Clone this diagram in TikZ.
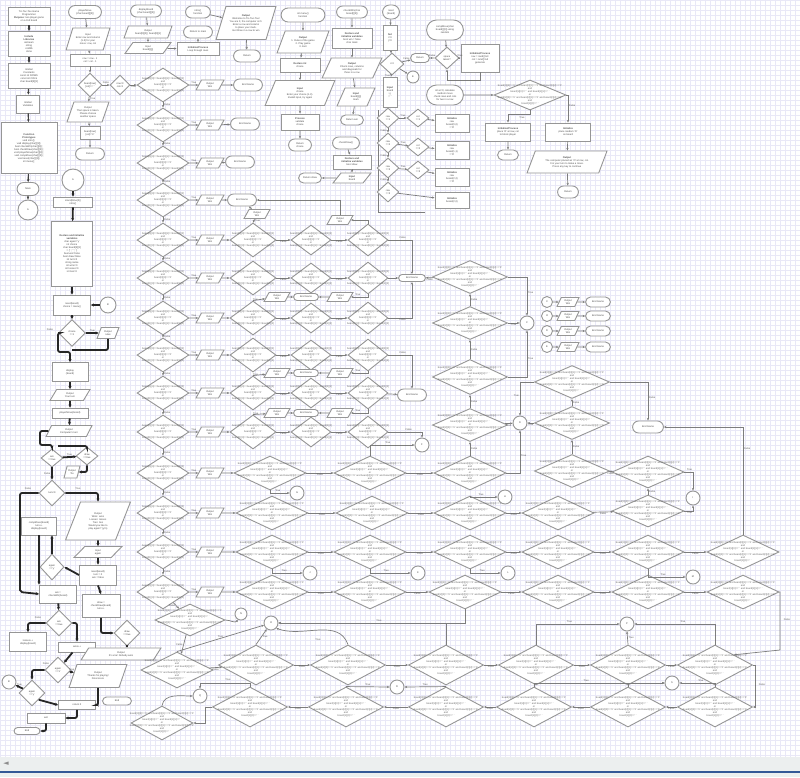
\documentclass[tikz,border=0pt]{standalone}
\usepackage{fontspec}
\setmainfont{Liberation Sans}
\newfontfamily\symf{DejaVu Sans}
\usetikzlibrary{shapes.geometric,shapes.misc,arrows.meta}
\definecolor{gridc}{RGB}{233,232,247}
\definecolor{edgec}{RGB}{150,150,150}
\definecolor{linec}{RGB}{125,125,125}
\definecolor{bandc}{RGB}{236,239,239}
\definecolor{bluec}{RGB}{52,88,150}
\newcommand\tf{\fontsize{2.5}{3}\selectfont}
\newcommand\dtext{board[0][0]==board[0][1]==board[0][2]\\and\\board[0][0]=={}'X'\\or\\board[1][0]==board[1][1]==board[1][2]}
\newcommand\dtextB{board[0][0]=={}'X' and board[0][1]=={}'X' and board[0][2]=={}'X'\\and\\board[1][0]=={}' ' and board[1][1]=={}' '\\or\\board[2][0]=={}'X' and board[2][1]=={}'X' and board[2][2]=={}'X'\\and\\board[1][2]=={}' '}
\newcommand\Rc[6]{\node[bx,rectangle,minimum width=#4pt,minimum height=#5pt] (#1) at (#2,#3) {#6};}
\newcommand\Tm[6]{\node[bx,rounded rectangle,minimum width=#4pt,minimum height=#5pt] (#1) at (#2,#3) {#6};}
\newcommand\Io[6]{\node[bx,trapezium,trapezium left angle=65,trapezium right angle=115,trapezium stretches=true,minimum width=#4pt,minimum height=#5pt] (#1) at (#2,#3) {#6};}
\newcommand\Dm[5]{\node[bx,diamond,minimum width=#4pt,minimum height=#5pt,label={[dtx]center:\dtext}] (#1) at (#2,#3) {};}
\newcommand\Db[5]{\node[bx,diamond,minimum width=#4pt,minimum height=#5pt,label={[dtx]center:\dtextB}] (#1) at (#2,#3) {};}
\newcommand\Ds[6]{\node[bx,diamond,minimum width=#4pt,minimum height=#5pt,inner sep=0pt] (#1) at (#2,#3) {#6};}
\newcommand\Cc[5]{\node[bx,circle,minimum size=#4pt,inner sep=0pt] (#1) at (#2,#3) {#5};}
\begin{document}
\begin{tikzpicture}[x=1pt,y=-1pt,
  bx/.style={draw=edgec,line width=0.9pt,fill=white,inner sep=0.6pt,font=\tf,align=center,text=black!70},
  dtx/.style={font=\tf,align=center,inner sep=0pt,text=black!60},
  ar/.style={draw=linec,line width=0.7pt,-{Stealth[length=2.6pt,width=2.2pt]}},
  ard/.style={draw=black!75,line width=1.1pt,-{Stealth[length=2.8pt,width=2.6pt]}},
  bk/.style={draw=black!85,line width=1.8pt,rounded corners=2pt,-{Stealth[length=3pt,width=3pt]}},
  lb/.style={font=\tf,text=black!65,inner sep=0.8pt}]
\useasboundingbox (0,0) rectangle (800,777);
\fill[white] (0,0) rectangle (800,757);
\draw[gridc,line width=0.3pt,step=5pt] (0,0) grid (800,757);
\fill[bandc] (0,757) rectangle (800,771);
\fill[bluec] (0,771) rectangle (800,772.6);
\fill[bandc] (0,772.6) rectangle (800,777);
\node[font=\symf\fontsize{7}{7}\selectfont,text=black!45] (arrl) at (6,764) {◄};

% ---------------- column A
\Rc{a1}{29}{16}{42}{18}{Tic-Tac-Toe Game\\ Programmer\\ \textbf{Purpose}: two player game\\ on a 3x3 board}
\Rc{a2}{29}{44}{42}{25}{\textbf{Include}\\ \textbf{Libraries}\\ iostream\\ string\\ cstdlib\\ ctime}
\Rc{a3}{29}{76}{42}{25}{Global\\ Constants\\ const int ROWS\\ const int COLS\\ char board[3][3]}
\Rc{a4}{28}{104}{23}{18}{Global\\ Variables}
\Rc{a5}{29}{148}{56}{51}{\textbf{Function}\\ \textbf{Prototypes}\\ void intro();\\ void display(char[][3]);\\ bool checkWin(char[][3]);\\ bool checkDraw(char[][3]);\\ void playerMove(char[][3]);\\ void compMove(char[][3]);\\ void reset(char[][3]);\\ int menu();}
\Tm{a6}{28}{189}{23}{13}{Main}
\Cc{a7}{28}{210}{20}{A}
\draw[ard] (a1)--(a2); \draw[ard] (a2)--(a3); \draw[ard] (a3)--(a4);
\draw[ard] (a4)--(a5); \draw[ard] (a5)--(a6); \draw[ard] (a6)--(a7);

% ---------------- column B
\Tm{b1}{85}{12}{34}{13}{playerMove\\ (char board[][3])}
\Io{b2}{88}{39}{44}{22}{Input\\ Enter row and column\\ (1-3) for your\\ move: row, col}
\Rc{b3}{90}{60}{40}{12}{row = row - 1\\ col = col - 1}
\Ds{b4}{90}{85}{24}{24}{board[row]\\{}[col]==' '}
\Ds{b5}{120}{85}{20}{20}{row<3\\ col<3}
\Io{b6}{88}{112}{42}{20}{Output\\ That space is taken.\\ Please choose\\ another space}
\Rc{b7}{90}{133}{20}{13}{board[row]\\{}[col]='X'}
\Tm{b8}{90}{154}{30}{12}{Return}
\Cc{b9}{73}{180}{22}{A}
\Rc{b10}{73}{202}{39}{10}{srand(time(0))\\ intro()}
\Rc{b11}{72}{254}{41}{65}{\textbf{Declare and initialize}\\ \textbf{variables}\\ char again='y'\\ int choice\\ char board[3][3]\\ = \{' ',' ',' '\}\\ bool win=false\\ bool draw=false\\ int turn=0\\ string name\\ int wins=0\\ int losses=0\\ int ties=0}
\Rc{b12}{72}{305}{37}{20}{reset(board)\\ choice = menu()}
\Cc{b12c}{108}{305}{16}{B}
\Ds{b13}{72}{333}{27}{27}{choice\\ ==1}
\Io{b14}{108}{333}{22}{11}{Output\\ rules}
\Rc{b15}{70}{372}{36}{19}{display\\ (board)}
\Io{b16}{70}{395}{40}{11}{Output\\ Your turn}
\Rc{b17}{70}{413}{36}{10}{playerMove(board)}
\Io{b18}{69}{431}{46}{11}{Output\\ Computer's turn}
\Ds{b19}{52}{458}{22}{18}{win\\ ==true}
\Ds{b20}{87}{456}{22}{18}{draw\\ ==true}
\Io{b21}{72}{472}{16}{12}{Output\\ Tie}
\Ds{b22}{52}{493}{26}{26}{turn<9}
\Rc{b23}{39}{526}{35}{18}{compMove(board)\\ turn++\\ display(board)}
\Io{b24}{98}{521}{65}{38}{Output\\ Wins: wins\\ Losses: losses\\ Ties: ties\\ Would you like to\\ play again? (y/n)}
\Io{b25}{98}{552}{48}{11}{Input\\ again}
\Ds{b26}{52}{567}{24}{26}{again\\ =='y'}
\Rc{b27}{98}{575}{37}{20}{reset(board)\\ turn = 0\\ win = false}
\Rc{b28}{58}{594}{37}{18}{win =\\ checkWin(board)}
\Rc{b29}{101}{606}{38}{23}{draw =\\ checkDraw(board)\\ turn++}
\Ds{b30}{59}{623}{26}{26}{win\\ ==true}
\Ds{b31}{127}{633}{26}{26}{draw\\ ==true}
\Rc{b32}{28}{642}{37}{19}{losses++\\ display(board)}
\Rc{b33}{77}{647}{37}{10}{wins++}
\Io{b34}{121}{654}{80}{12}{Output\\ It's a tie! Nobody wins}
\Ds{b35}{58}{670}{26}{26}{again\\ =='n'}
\Io{b36}{98}{676}{58}{23}{Output\\ Thanks for playing!\\ Final score}
\Cc{b37}{9}{682}{14}{B}
\Ds{b38}{32}{693}{26}{26}{again\\ =='y'}
\Rc{b39}{77}{705}{37}{9}{return 0}
\Tm{b40}{117}{701}{30}{8}{End}
\Rc{b41}{46}{718}{38}{10}{exit}
\Tm{b42}{27}{731}{27}{7}{End}

\draw[ar] (b1)--(b2); \draw[ar] (b2)--(b3); \draw[ar] (b3)--(b4);
\draw[ar] (b4)--(b5) node[lb,midway,above]{False};
\draw[ar] (b4)--(b6) node[lb,midway,right]{True};
\draw[ar] (b6)--(b7); \draw[ar] (b7)--(b8);
\draw[bk] (b9)--(b10); \draw[bk] (b10)--(b11); \draw[bk] (b11)--(b12);
\draw[bk] (b12c)--(b12); \draw[bk] (b12)--(b13);
\draw[bk] (b13)--(b14) node[lb,midway,above]{True};
\draw[bk,-] (b14.south) |- (72,350);
\draw[bk] (b13.west) -| (58,352) -| (b15.north);
\node[lb] (lf1) at (50,330) {False};
\draw[bk] (b15)--(b16); \draw[bk] (b16)--(b17); \draw[bk] (b17)--(b18);
\draw[bk] (b18.west) -| (40,445) -| (b19.north);
\draw[bk] (b19)--(b20) node[lb,midway,above]{True};
\draw[bk,-] (b20.north) |- (58,446);
\draw[bk] (b20.south) |- (b21.east);
\draw[bk] (b19)--(b22) node[lb,midway,left]{False};
\draw[bk] (b22.east) -| (b24.north);
\node[lb] (lt1) at (78,489) {True};
\draw[bk] (b22.west) -| (20,592) -- (b28.west);
\node[lb] (lf2) at (28,489) {False};
\draw[bk] (b23.south) -- (b23.south |- b28.north);
\draw[bk] (b24)--(b25); \draw[bk] (b25)--(b27);
\draw[bk] (b27.west)--(b26.east);
\draw[bk] (b26.north) -- (b26.north |- b23.south);
\draw[bk] (b27.south)--(b29.north);
\draw[bk] (b28)--(b30);
\draw[bk] (b29.south) |- (b31.west);
\draw[bk] (b30.west) -| (b32.north);
\node[lb] (lf3) at (38,618) {False};
\draw[bk] (b30.east) -| (b33.north);
\draw[bk] (b31.south) -- (b31.south |- b34.north);
\draw[bk] (b33)--(b35);
\draw[bk] (b35)--(b36) node[lb,midway,above]{True};
\draw[bk] (b35.west) -| (b38.north);
\node[lb] (lf4) at (46,664) {False};
\draw[bk] (b38)--(b37) node[lb,midway,above]{True};
\draw[bk] (b38.south east)--(b39.west);
\draw[bk] (b36.south) |- (b39.east);
\draw[bk] (b39.south) |- (b41.east);
\draw[bk] (b41.south) |- (b42.east);

% ---------------- top middle
\Tm{ct1}{146}{11}{32}{12}{displayBoard\\ (char board[][3])}
\Io{ct2}{148}{32}{48}{12}{Output\\ board[0][0] | board[0][1]}
\Io{ct3}{148}{48}{46}{11}{Input\\ board[i][j]}
\Tm{ct4}{198}{12}{26}{12}{intro()\\ function}
\Tm{ct5}{198}{32}{30}{12}{Return to main}
\Rc{ct6}{198}{49}{42}{13}{\textbf{Initialize/Process}\\ Loop through rows}
\Io{ct7}{246}{23}{60}{33}{\textbf{Output}\\ Welcome to Tic-Tac-Toe!\\ You are X, the computer is O.\\ Enter a row and column\\ to place your mark.\\ Get three in a row to win}
\Tm{ct8}{247}{56}{28}{12}{Return}
\draw[ar] (ct1)--(ct2); \draw[ar] (ct2)--(ct3); \draw[ar] (ct3)--(ct6);
\draw[ar] (ct6)--(ct5); \draw[ar] (ct4)--(ct7); \draw[ar] (ct7)--(ct8);

\Tm{d1}{303}{15}{45}{14}{int menu()\\ function}
\Io{d2}{303}{42}{52}{22}{\textbf{Output}\\ 1. Rules of the game\\ 2. Play game\\ 3. Exit}
\Rc{d3}{300}{65}{40}{14}{\textbf{Declare int}\\ choice}
\Io{d4}{300}{93}{70}{25}{\textbf{Input}\\ choice\\ Enter your choice (1-3).\\ Invalid input, try again}
\Rc{d5}{300}{122}{38}{16}{\textbf{Process}\\ validate\\ choice}
\Tm{d6}{300}{145}{24}{12}{Return\\ choice}
\draw[ar] (d1)--(d2); \draw[ar] (d2)--(d3); \draw[ar] (d3)--(d4);
\draw[ar] (d4)--(d5); \draw[ar] (d5)--(d6);

\Tm{e1}{352}{12}{32}{12}{checkWin(char\\ board[][3])}
\Rc{e2}{352}{38}{40}{20}{\textbf{Declare and}\\ \textbf{initialize variables}\\ bool win = false\\ char mark}
\Io{e3}{352}{68}{60}{20}{\textbf{Output}\\ Check rows, columns\\ and diagonals for\\ three in a row}
\Io{e4}{356}{97}{38}{18}{\textbf{Input}\\ board[i][j]\\ mark}
\Tm{e5}{352}{120}{24}{10}{Return win}
\Tm{e6}{346}{143}{28}{12}{checkDraw()}
\Rc{e7}{352}{162}{38}{14}{\textbf{Declare and}\\ \textbf{initialize variables}\\ bool draw}
\Io{e8}{352}{178}{38}{10}{\textbf{Input}\\ board}
\Tm{e9}{310}{178}{24}{10}{Return draw}
\draw[ar] (e1)--(e2); \draw[ar] (e2)--(e3); \draw[ar] (e3)--(e4); \draw[ar] (e4)--(e5);
\draw[ar] (e6)--(e7); \draw[ar] (e7)--(e8); \draw[ar] (e8)--(e9);

\Tm{f1}{391}{12}{18}{14}{reset\\ (board)}
\Rc{f2}{390}{38}{14}{25}{\textbf{Set}\\ i=0\\ j=0}
\Ds{f3}{392}{64}{24}{22}{i<3}
\Tm{f4}{420}{58}{20}{9}{Return}
\Cc{f5}{413}{77}{12}{E}
\Rc{f6}{390}{92}{14}{30}{\textbf{Input}\\ board\\ i, j\\ =' '}
\draw[ar] (f1)--(f2); \draw[ar] (f2)--(f3);
\draw[ar] (f3)--(f4) node[lb,midway,above]{False};
\draw[ar] (f3)--(f6) node[lb,midway,left]{True};
\draw[ar] (f3)--(f5);
\draw[linec,line width=0.8pt] (378,110) -- (378,212) -- (425,212);
\Ds{g1}{388}{118}{22}{20}{row\\ ==1}
\Ds{g2}{418}{118}{22}{18}{col\\ ==1}
\Rc{g3}{452}{123}{34}{18}{\textbf{Initialize}\\ row\\ board(0,0)\\ ='O'}
\Ds{g4}{388}{143}{22}{20}{row\\ ==2}
\Ds{g5}{418}{147}{22}{18}{col\\ ==2}
\Rc{g6}{452}{150}{34}{18}{\textbf{Initialize}\\ row\\ board(1,1)\\ ='O'}
\Ds{g7}{388}{168}{22}{20}{row\\ ==3}
\Ds{g8}{418}{170}{22}{18}{col\\ ==3}
\Rc{g9}{452}{177}{34}{18}{\textbf{Initialize}\\ row\\ board(2,2)\\ ='O'}
\Ds{g10}{388}{192}{22}{20}{row\\ ==3}
\Rc{g12}{452}{200}{34}{16}{\textbf{Initialize}\\ board(2,0)}
\draw[ar] (g1)--(g2) node[lb,midway,above]{True}; \draw[ar] (g2)--(g3);
\draw[ar] (g1)--(g4) node[lb,midway,left]{False};
\draw[ar] (g4)--(g5) node[lb,midway,above]{True}; \draw[ar] (g5)--(g6);
\draw[ar] (g4)--(g7) node[lb,midway,left]{False};
\draw[ar] (g7)--(g8) node[lb,midway,above]{True}; \draw[ar] (g8)--(g9);
\draw[ar] (g7)--(g10) node[lb,midway,left]{False};
\draw[ar] (g10)--(g12);

\Tm{h1}{445}{30}{38}{20}{compMove(char\\ board[][3]) using\\ random}
\Ds{h2}{447}{58}{24}{22}{space\\ taken?}
\Rc{h4}{480}{58}{38}{28}{\textbf{Initialize/Process}\\ row = rand()\%3\\ col = rand()\%3\\ generate}
\Tm{h5}{445}{95}{38}{20}{int ai=0; calculate\\ random move\\ check rows and cols\\ for two in a row}
\Db{h6}{530}{95}{72}{30}
\Rc{h7}{508}{132}{45}{18}{\textbf{Initialize/Process}\\ place 'O' at row, col\\ to block player}
\Rc{h8}{568}{132}{45}{18}{\textbf{Initialize}\\ place random 'O'\\ on board}
\Tm{h9}{508}{155}{22}{10}{Return}
\Io{h10}{567}{162}{80}{22}{\textbf{Output}\\ The computer placed an 'O' at row, col.\\ It is your turn to make a move.\\ Press any key to continue}
\Tm{h11}{568}{192}{22}{12}{Return}
\draw[ar] (h1)--(h2);
\draw[ar] (h2)--(f4) node[lb,midway,above]{False};
\draw[ar] (h2)--(h4) node[lb,midway,above]{True};
\draw[ar] (h4.south) -- (480,80) -| (h2.south);
\draw[ar] (h5)--(h6);
\draw[ar] (h6.south) -- (530,114) -| (h7.north);
\node[lb] (lt2) at (522,118) {True};
\draw[ar] (h6.east) -| (h8.north) node[lb,pos=0.7,right]{False};
\draw[ar] (h7)--(h9); \draw[ar] (h8)--(h10); \draw[ar] (h10)--(h11);

% ---------------- main column
\foreach \yy [count=\i] in {85,125,163,200,240,278,318,355,393,432,473,513,552,592}{
  \Dm{c\i}{163}{\yy}{52}{34}
  \Io{o\i}{210}{\yy}{28}{10}{Output\\ Win}
  \draw[ar] (c\i)--(o\i) node[lb,midway,above]{True};
}
\foreach \i [evaluate=\i as \j using int(\i+1)] in {1,...,13}{
  \draw[ar] (c\i)--(c\j) node[lb,midway,right]{False};
}
\draw[ar] (b5)--(c1) node[lb,midway,below]{True};
\Tm{t1}{248}{85}{30}{12}{End Game}
\Tm{t2}{245}{124}{30}{12}{End Game}
\Tm{t3}{240}{162}{30}{12}{End Game}
\Tm{t4}{242}{200}{30}{12}{End Game}
\draw[ar] (o1)--(t1); \draw[ar] (o2)--(t2); \draw[ar] (o3)--(t3); \draw[ar] (o4)--(t4);

\foreach \yy/\i in {240/5,278/6,318/7,355/8,393/9,432/10}{
  \Dm{da\i}{253}{\yy}{46}{34}
  \Dm{db\i}{311}{\yy}{40}{30}
  \Dm{dc\i}{368}{\yy}{40}{32}
  \draw[ar] (o\i)--(da\i);
  \draw[ar] (da\i)--(db\i) node[lb,midway,below]{False};
  \draw[ar] (db\i)--(dc\i) node[lb,midway,below]{False};
}
\Io{pa}{257}{214}{26}{9}{Output\\ Win}
\Io{pb}{340}{220}{26}{9}{Output\\ Win}
\draw[ar] (da5.north)--(pa) node[lb,midway,right]{True};
\draw[ar] (pa)--(t4);
\draw[ar] (dc5.north) |- (pb.east);
\draw[ar] (pb.north) |- (t4.east);
\foreach \yy/\k in {297/a,373/b,413/c}{
  \Io{qa\k}{277}{\yy}{26}{9}{Output\\ Win}
  \Tm{qt\k}{306}{\yy}{26}{7}{End Game}
  \Io{qb\k}{340}{\yy}{26}{9}{Output\\ Win}
  \draw[ar] (qa\k)--(qt\k); \draw[ar] (qb\k)--(qt\k);
}
\draw[ar] (dc6.south) |- (qba.east) node[lb,pos=0.8,above]{True};
\draw[ar] (da7.north) -- (qaa) node[lb,midway,left]{True};
\draw[ar] (dc8.south) |- (qbb.east) node[lb,pos=0.8,above]{True};
\draw[ar] (da9.north) -- (qab) node[lb,midway,left]{True};
\draw[ar] (dc9.south) |- (qbc.east) node[lb,pos=0.8,above]{True};
\draw[ar] (da10.north) -- (qac) node[lb,midway,left]{True};

% ---------------- right-middle
\Tm{tm1}{412}{278}{28}{7}{End Game}
\Tm{tm2}{412}{395}{30}{12}{End Game}
\Tm{tm3}{648}{427}{32}{12}{End Game}
\Db{E1}{470}{277}{75}{33}
\Db{E2}{470}{323}{75}{33}
\Db{E3}{470}{377}{75}{35}
\Db{E4}{470}{425}{75}{33}
\Cc{cE}{527}{323}{14}{C}
\Cc{cE4}{520}{423}{14}{D}
\Db{F1}{572}{382}{75}{33}
\Db{F2}{572}{423}{75}{33}
\Db{F3}{572}{471}{75}{33}
\draw[ar] (dc5.east) -| (tm1.north) node[lb,pos=0.3,above]{False};
\draw[ar] (dc6)--(tm1);
\draw[ar] (dc7.east) -| (tm1.south) node[lb,pos=0.3,below]{False};
\draw[ar] (E1)--(tm1) node[lb,midway,below]{False};
\draw[ar] (E2)--(E1) node[lb,midway,right]{False};
\draw[ar] (E3)--(E2) node[lb,midway,right]{False};
\draw[ar] (E4)--(E3) node[lb,midway,right]{False};
\draw[ar] (E1.east) -| (cE.north) node[lb,pos=0.7,right]{True};
\draw[ar] (E2)--(cE) node[lb,midway,below]{True};
\draw[ar] (E3.east) -| (cE.south) node[lb,pos=0.7,right]{True};
\draw[ar] (dc8.east) -| (tm2.north) node[lb,pos=0.3,above]{False};
\draw[ar] (dc9)--(tm2);
\draw[ar] (E4)--(cE4) node[lb,midway,below]{True};
\draw[ar] (F1.west) -| (cE4.north) node[lb,pos=0.7,left]{True};
\draw[ar] (F2)--(cE4) node[lb,midway,below]{True};
\draw[ar] (F2)--(F1) node[lb,midway,right]{False};
\draw[ar] (F3)--(F2) node[lb,midway,right]{False};
\draw[ar] (F1.east) -| (tm3.north) node[lb,pos=0.7,right]{False};
\foreach \yy/\k/\l in {302/1/X,316/2/O,331/3/D,347/4/E}{
  \Cc{s\k}{547}{\yy}{11}{\l}
  \Io{so\k}{568}{\yy}{22}{9}{Output\\ Win}
  \Tm{st\k}{598}{\yy}{26}{10}{End Game}
  \draw[ar] (s\k)--(so\k); \draw[ar] (so\k)--(st\k);
}

% ---------------- lower right rows
\Db{r1a}{270}{473}{72}{34} \Db{r1b}{370}{473}{72}{34} \Db{r1c}{470}{473}{72}{34}
\Db{G1}{648}{472}{72}{32}
\Db{r2a}{272}{513}{72}{34} \Db{r2b}{372}{513}{72}{34} \Db{r2c}{470}{513}{72}{34}
\Db{r2d}{558}{513}{72}{34} \Db{G2}{648}{511}{72}{32}
\Db{r3a}{272}{552}{72}{34} \Db{r3b}{370}{552}{72}{34} \Db{r3c}{470}{552}{72}{34}
\Db{r3d}{558}{552}{72}{34} \Db{r3e}{648}{552}{72}{34} \Db{H3}{743}{552}{72}{34}
\Db{r4a}{272}{592}{72}{34} \Db{r4b}{370}{592}{72}{34} \Db{r4c}{465}{592}{72}{34}
\Db{r4d}{558}{592}{72}{34} \Db{r4e}{648}{592}{72}{34} \Db{r4f}{743}{592}{72}{34}
\Cc{k0}{422}{445}{14}{F}
\Cc{k1}{297}{493}{14}{G}
\Cc{k2}{505}{497}{14}{H}
\Cc{k3}{693}{498}{14}{I}
\Cc{k4}{310}{573}{14}{J}
\Cc{k5}{418}{573}{14}{K}
\Cc{k6}{508}{573}{14}{L}
\Cc{k7}{693}{577}{14}{M}
\draw[ar] (o11)--(r1a);
\draw[ar] (r1a)--(r1b) node[lb,midway,below]{False};
\draw[ar] (r1b)--(r1c) node[lb,midway,below]{False};
\draw[ar] (r1c)--(E4) node[lb,midway,right]{False};
\draw[ar] (r1c.east) -| (cE4.south) node[lb,pos=0.7,right]{True};
\draw[ar] (G1)--(F3) node[lb,midway,below]{False};
\draw[ar] (G2)--(G1) node[lb,midway,right]{False};
\draw[ar] (o12)--(r2a);
\draw[ar] (r2a)--(r2b) node[lb,midway,below]{False};
\draw[ar] (r2b)--(r2c) node[lb,midway,below]{False};
\draw[ar] (r2c)--(r2d) node[lb,midway,below]{False};
\draw[ar] (r2d)--(G2) node[lb,midway,below]{False};
\draw[ar] (o13)--(r3a);
\draw[ar] (r3a)--(r3b) node[lb,midway,below]{False};
\draw[ar] (r3b)--(r3c) node[lb,midway,below]{False};
\draw[ar] (r3c)--(r3d) node[lb,midway,below]{False};
\draw[ar] (r3d)--(r3e) node[lb,midway,below]{False};
\draw[ar] (r3e)--(H3) node[lb,midway,below]{False};
\draw[ar] (H3.north) |- (tm3.east) node[lb,pos=0.4,right]{False};
\draw[ar] (o14)--(r4a);
\draw[ar] (r4a)--(r4b) node[lb,midway,below]{False};
\draw[ar] (r4b)--(r4c) node[lb,midway,below]{False};
\draw[ar] (r4c)--(r4d) node[lb,midway,below]{False};
\draw[ar] (r4d)--(r4e) node[lb,midway,below]{False};
\draw[ar] (r4e)--(r4f) node[lb,midway,below]{False};
\draw[ar] (dc10.east) -| (k0.north) node[lb,pos=0.3,above]{False};
\draw[ar] (r1b.north) |- (k0.west) node[lb,pos=0.7,above]{True};
\draw[ar] (r1a.south) |- (k1.west) node[lb,pos=0.7,above]{True};
\draw[ar] (r2c.north) |- (k2.west) node[lb,pos=0.7,above]{True};
\draw[ar] (G1.east) -| (k3.north) node[lb,pos=0.3,above]{True};
\draw[ar] (G2.east) -| (k3.south) node[lb,pos=0.3,below]{True};
\draw[ar] (r3a.south) |- (k4.west) node[lb,pos=0.7,above]{True};
\draw[ar] (r3b.south) |- (k5.west) node[lb,pos=0.7,above]{True};
\draw[ar] (r3c.south) |- (k6.west) node[lb,pos=0.7,above]{True};
\draw[ar] (r3e.south) |- (k7.west) node[lb,pos=0.7,above]{True};

% ---------------- bottom rows
\Db{x1}{190}{620}{70}{32}
\Db{x2}{177}{670}{72}{36}
\Db{x3}{162}{723}{62}{34}
\Cc{y1}{241}{614}{12}{N}
\Cc{y2}{271}{623}{14}{O}
\Cc{y3}{627}{624}{14}{P}
\Cc{y4}{200}{696}{14}{Q}
\Cc{y5}{397}{687}{14}{R}
\Cc{y6}{672}{683}{14}{S}
\Db{A1}{256}{665}{75}{40} \Db{A2}{348}{665}{75}{40} \Db{A3}{446}{665}{75}{40}
\Db{A4}{536}{665}{75}{40} \Db{A5}{628}{665}{75}{40} \Db{A6}{715}{665}{75}{40}
\Db{B1}{250}{707}{75}{40} \Db{B2}{346}{707}{75}{40} \Db{B3}{446}{707}{75}{40}
\Db{B4}{534}{707}{75}{40} \Db{B5}{628}{707}{75}{40} \Db{B6}{715}{707}{75}{40}
\draw[ar] (c14)--(x1) node[lb,midway,left]{False};
\draw[ar] (x1)--(x2) node[lb,midway,left]{False};
\draw[ar] (x1.east) to[out=0,in=-120] (y1);
\draw[ar] (x2.north)--(y2) node[lb,midway,above]{True};
\draw[ar] (x2)--(A1) node[lb,midway,below]{False};
\draw[ar] (A1)--(A2) node[lb,midway,below]{False};
\draw[ar] (A2)--(A3) node[lb,midway,below]{False};
\draw[ar] (A3)--(A4) node[lb,midway,below]{False};
\draw[ar] (A4)--(A5) node[lb,midway,below]{False};
\draw[ar] (A5)--(A6) node[lb,midway,below]{False};
\draw[ar] (A6.east) -| (755,690) |- (B6.east);
\node[lb] (lf5) at (762,685) {False};
\draw[ar] (B6)--(B5) node[lb,midway,below]{False};
\draw[ar] (B5)--(B4) node[lb,midway,below]{False};
\draw[ar] (B4)--(B3) node[lb,midway,below]{False};
\draw[ar] (B3)--(B2) node[lb,midway,below]{False};
\draw[ar] (B2)--(B1) node[lb,midway,below]{False};
\draw[ar] (B1.west) -- (205,707) |- (x3.east);
\draw[ar] (x3.north) to[out=80,in=180] (y4.west);
\draw[ar] (B1.north) -- (250,683) -| (y4.north);
\node[lb] (lt3) at (228,680) {True};
\draw[ar] (A1.north)--(y2) node[lb,midway,right]{True};
\draw[ar] (A2.north) to[out=110,in=-20] (y2.south east);
\node[lb] (lt4) at (318,640) {True};
\draw[ar] (A3.north) |- (y2.east) node[lb,pos=0.7,above]{True};
\draw[ar] (r4c.south) |- (y2.east);
\draw[ar] (A4.north) |- (y3.west) node[lb,pos=0.7,above]{True};
\draw[ar] (A5.north)--(y3.south) node[lb,midway,right]{True};
\draw[ar] (A6.north) |- (y3.east) node[lb,pos=0.7,above]{True};
\draw[ar] (B2.north)--(y5.west) node[lb,midway,above]{True};
\draw[ar] (B3.north)--(y5.east) node[lb,midway,above]{True};
\draw[ar] (B4.north) |- (y6.west) node[lb,pos=0.7,above]{True};
\draw[ar] (B5.north) |- (y6.west);
\draw[ar] (B6.north) |- (y6.east) node[lb,pos=0.7,above]{True};
\draw[ar] (r4f.east) -- (780,592) -- (780,650) -- (A6.north east);
\node[lb] (lf6) at (787,620) {False};
\end{tikzpicture}
\end{document}
